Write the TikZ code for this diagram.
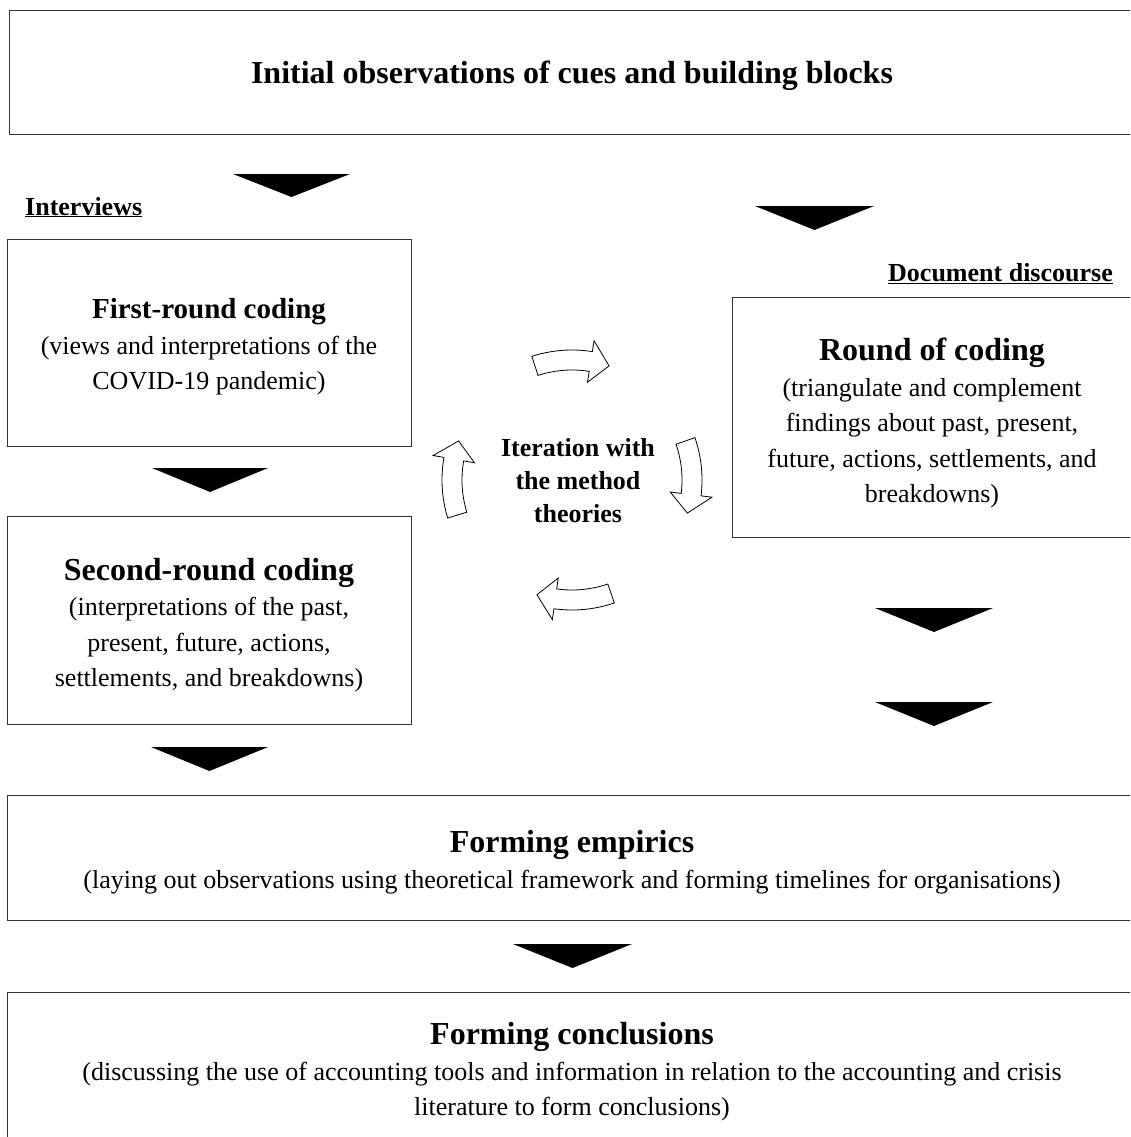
\documentclass[tikz,border=0pt]{standalone}
\usepackage{fontspec}
\setmainfont{Liberation Serif}
\tikzset{
  box/.style={draw=black!80, line width=1pt, anchor=north west, inner sep=0pt},
  bodytxt/.style={align=center, font=\fontsize{26}{35.5}\selectfont, inner sep=0pt},
  labeltxt/.style={inner sep=0pt, font=\fontsize{26}{30}\selectfont\bfseries},
  curvarrow/.style={draw=black, fill=white, line width=0.8pt, line join=miter},
  blacktri/.style={fill=black}
}
\newcommand{\ttl}[2][32]{{\fontsize{#1}{35.5}\selectfont\bfseries #2}}
\newcommand{\ddtri}[4]{\fill[blacktri] (#1,#3) -- (#2,#3) -- ({(#1+#2)/2},#4) -- cycle;}
\newcommand{\cyclearrow}[2]{%
  \pgfmathsetmacro{\hb}{#2+9}%
  \draw[curvarrow] (#1:130) arc[start angle=#1, end angle=\hb, radius=130]
    -- (\hb:141) -- (#2:120) -- (\hb:99) -- (\hb:110)
    arc[start angle=\hb, end angle=#1, radius=110] -- cycle;}
\begin{document}
\begin{tikzpicture}[x=1pt,y=-1pt]
\useasboundingbox (0,0) rectangle (1130,1137);
\clip (0,0) rectangle (1130,1137);
\fill[white] (0,0) rectangle (1130,1137);

% boxes
\node[box, minimum width=1126pt, minimum height=124pt] (top) at (9,10) {};
\node[box, minimum width=404pt, minimum height=207pt] (first) at (7,239) {};
\node[box, minimum width=404pt, minimum height=208pt] (second) at (7,516) {};
\node[box, minimum width=403pt, minimum height=240pt] (round) at (732,297) {};
\node[box, minimum width=1128pt, minimum height=125pt] (emp) at (7,795) {};
\node[box, minimum width=1128pt, minimum height=160pt] (concl) at (7,992) {};

% texts
\node[inner sep=0pt, font=\fontsize{32}{35}\selectfont\bfseries] (toptxt) at (572,76) {Initial observations of cues and building blocks};
\node[labeltxt, anchor=base west] (intv) at (25,215) {\underline{Interviews}};
\node[labeltxt, anchor=base east] (docd) at (1113,281) {\underline{Document discourse}};
\node[bodytxt] (firsttxt) at (209,347) {\ttl[29]{First-round coding}\\(views and interpretations of the\\COVID-19 pandemic)};
\node[bodytxt] (secondtxt) at (209,625) {\ttl{Second-round coding}\\(interpretations of the past,\\present, future, actions,\\settlements, and breakdowns)};
\node[bodytxt] (roundtxt) at (932,423) {\ttl{Round of coding}\\(triangulate and complement\\findings about past, present,\\future, actions, settlements, and\\breakdowns)};
\node[bodytxt] (emptxt) at (572,862) {\ttl{Forming empirics}\\(laying out observations using theoretical framework and forming timelines for organisations)};
\node[bodytxt] (conctxt) at (572,1072) {\ttl{Forming conclusions}\\(discussing the use of accounting tools and information in relation to the accounting and crisis\\literature to form conclusions)};
\node[align=center, inner sep=0pt, font=\fontsize{26}{33}\selectfont\bfseries] (iter) at (578,481) {Iteration with\\the method\\theories};

% black triangles
\ddtri{233}{350}{174}{197}
\ddtri{152}{268}{468}{492}
\ddtri{151}{268}{747}{771}
\ddtri{513}{632}{944}{968}
\ddtri{755}{874}{206}{230}
\ddtri{875}{993}{608}{632}
\ddtri{875}{993}{702}{726}

% iteration arrows (clockwise)
\begin{scope}[shift={(572,480)}, yscale=-1]
  \cyclearrow{108}{72}
  \cyclearrow{19}{-16}
  \cyclearrow{-71}{-107}
  \cyclearrow{197}{161}
\end{scope}
\end{tikzpicture}
\end{document}
